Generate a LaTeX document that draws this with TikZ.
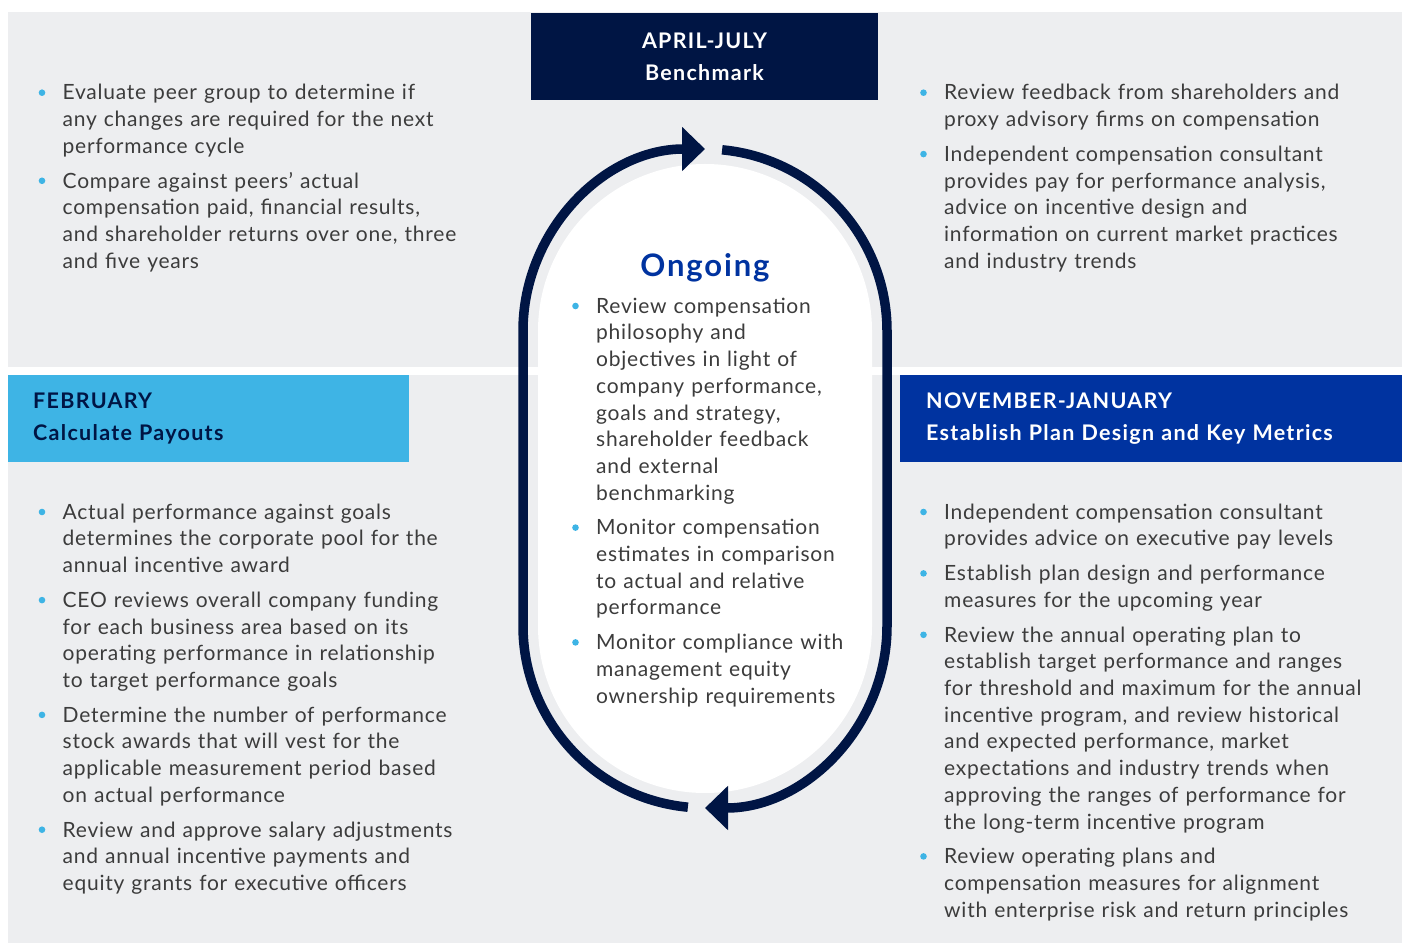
\documentclass[tikz,border=0pt]{standalone}
\usepackage{fontspec}
\setmainfont{Lato}
\newfontfamily\cyclebody{Lato}[LetterSpace=3.6]
\newfontfamily\cyclehead{Lato}[LetterSpace=6]
\usetikzlibrary{arrows.meta, positioning}
\definecolor{navy}{HTML}{001544}
\definecolor{royal}{HTML}{0033A0}
\definecolor{sky}{HTML}{3EB4E5}
\definecolor{panel}{HTML}{EDEEF0}
\definecolor{bodygray}{HTML}{3C3C3C}

\begin{document}
\begin{tikzpicture}[x=1pt, y=1pt,
    itemtext/.style={anchor=base west, inner sep=0pt, text width=450pt, align=left,
      text=bodygray, font=\cyclebody\fontsize{21}{26.7}\selectfont},
    headbox/.style={inner ysep=0pt, minimum height=87pt,
      font=\cyclehead\fontsize{21.5}{32}\selectfont\bfseries},
    ring/.style={draw=navy, line width=9.5pt, -{Triangle[length=23pt, width=43pt]}}]
  \useasboundingbox (0,0) rectangle (1402,943);
  \fill[white] (0,0) rectangle (1402,943);
  \fill[panel] (8,931) rectangle (1402,576);
  \fill[panel] (8,568) rectangle (1402,0);

  % ongoing cycle
  \coordinate (topc) at (705,612);
  \coordinate (botc) at (705,317);
  \fill[white] ([shift={(180:167)}]topc) -- ([shift={(180:167)}]botc)
    arc[start angle=180, end angle=360, radius=167]
    -- ([shift={(0:167)}]topc) arc[start angle=0, end angle=180, radius=167] -- cycle;
  \draw[ring] ([shift={(264.6:182)}]botc) arc[start angle=264.6, end angle=180, radius=182]
    -- ([shift={(180:182)}]topc) arc[start angle=180, end angle=90, radius=182];
  \draw[ring] ([shift={(84.6:182)}]topc) arc[start angle=84.6, end angle=0, radius=182]
    -- ([shift={(0:182)}]botc) arc[start angle=0, end angle=-90, radius=182];

  % headers
  \node[headbox, fill=navy, text=white, minimum width=347pt, align=center] (apr)
    at (704.5,886.5) {APRIL-JULY\\Benchmark};
  \node[headbox, fill=sky, text=navy, inner xsep=25pt, text width=351pt, align=left,
    anchor=north west] (feb) at (8,568) {FEBRUARY\\Calculate Payouts};
  \node[headbox, fill=royal, text=white, inner xsep=26pt, text width=450pt, align=left,
    anchor=north west] (nov) at (900,568) {NOVEMBER-JANUARY\\Establish Plan Design and Key Metrics};

  \node[anchor=base, text=royal, font=\cyclehead\fontsize{31}{36}\selectfont\bfseries] (ongoing)
    at (705,666) {Ongoing};

  % april-july
  \node[itemtext] (tl1) at (62.5,843) {Evaluate peer group to determine if\\any changes are required for the next\\performance cycle};
  \node[itemtext] (tl2) at (62.5,754.9) {Compare against peers’ actual\\compensation paid, financial results,\\and shareholder returns over one, three\\and five years};
  \node[itemtext] (tr1) at (944,843) {Review feedback from shareholders and\\proxy advisory firms on compensation};
  \node[itemtext] (tr2) at (944,781.6) {Independent compensation consultant\\provides pay for performance analysis,\\advice on incentive design and\\information on current market practices\\and industry trends};

  % ongoing
  \node[itemtext, text width=270pt] (c1) at (596,629.7) {Review compensation\\philosophy and\\objectives in light of\\company performance,\\goals and strategy,\\shareholder feedback\\and external\\benchmarking};
  \node[itemtext, text width=270pt] (c2) at (596,408.1) {Monitor compensation\\estimates in comparison\\to actual and relative\\performance};
  \node[itemtext, text width=270pt] (c3) at (596,293.3) {Monitor compliance with\\management equity\\ownership requirements};

  % february
  \node[itemtext] (bl1) at (62.5,423.7) {Actual performance against goals\\determines the corporate pool for the\\annual incentive award};
  \node[itemtext] (bl2) at (62.5,335.6) {CEO reviews overall company funding\\for each business area based on its\\operating performance in relationship\\to target performance goals};
  \node[itemtext] (bl3) at (62.5,220.8) {Determine the number of performance\\stock awards that will vest for the\\applicable measurement period based\\on actual performance};
  \node[itemtext] (bl4) at (62.5,106) {Review and approve salary adjustments\\and annual incentive payments and\\equity grants for executive officers};

  % november-january
  \node[itemtext] (br1) at (944,423.7) {Independent compensation consultant\\provides advice on executive pay levels};
  \node[itemtext] (br2) at (944,362.3) {Establish plan design and performance\\measures for the upcoming year};
  \node[itemtext] (br3) at (944,300.9) {Review the annual operating plan to\\establish target performance and ranges\\for threshold and maximum for the annual\\incentive program, and review historical\\and expected performance, market\\expectations and industry trends when\\approving the ranges of performance for\\the long-term incentive program};
  \node[itemtext] (br4) at (944,79.3) {Review operating plans and\\compensation measures for alignment\\with enterprise risk and return principles};

  \foreach \n in {tl1, tl2, tr1, tr2, c1, c2, c3, bl1, bl2, bl3, bl4, br1, br2, br3, br4} {
    \fill[sky] ([shift={(-20.5,7.3)}]\n.base west) circle (3.3);
  }
\end{tikzpicture}
\end{document}
